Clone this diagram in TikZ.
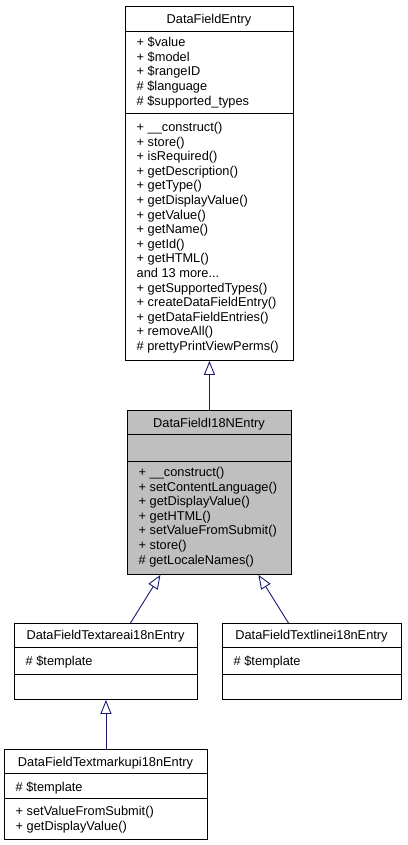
\documentclass[tikz,border=0pt]{standalone}
\usepackage{fontspec}
\setmainfont{Liberation Sans}
\usetikzlibrary{arrows.meta}
\definecolor{edgeblue}{HTML}{191970}
\definecolor{boxgray}{HTML}{BFBFBF}
\tikzset{
  classbox/.style={draw=black, line width=0.9pt, inner sep=0pt, anchor=north west},
  divider/.style={draw=black, line width=0.9pt},
  ttl/.style={anchor=base, inner sep=0pt, font=\fontsize{12.8pt}{14.6pt}\selectfont},
  mem/.style={anchor=base west, inner sep=0pt, font=\fontsize{12.8pt}{14.6pt}\selectfont},
  inh/.style={draw=edgeblue, line width=0.9pt, -{Triangle[open, length=14pt, width=11pt]}}
}
\begin{document}
\begin{tikzpicture}[x=1pt, y=-1pt]
\useasboundingbox (0,0) rectangle (407,845);

% ---------- DataFieldEntry ----------
\node[classbox, minimum width=168pt, minimum height=354pt] (b1) at (125,6) {};
\node[ttl] (b1t) at (209,23.5) {DataFieldEntry};
\draw[divider] (b1.west |- 0,31.5) -- (b1.east |- 0,31.5);
\draw[divider] (b1.west |- 0,113) -- (b1.east |- 0,113);
\node[mem] (b1a1) at (136.5,46.8) {+ \$value};
\node[mem] (b1a2) at (136.5,61.4) {+ \$model};
\node[mem] (b1a3) at (136.5,76.0) {+ \$rangeID};
\node[mem] (b1a4) at (136.5,90.6) {\# \$language};
\node[mem] (b1a5) at (136.5,105.2) {\# \$supported\_types};
\node[mem] (b1m1) at (136.5,131.5) {+ \_\_construct()};
\node[mem] (b1m2) at (136.5,146.1) {+ store()};
\node[mem] (b1m3) at (136.5,160.7) {+ isRequired()};
\node[mem] (b1m4) at (136.5,175.3) {+ getDescription()};
\node[mem] (b1m5) at (136.5,189.9) {+ getType()};
\node[mem] (b1m6) at (136.5,204.5) {+ getDisplayValue()};
\node[mem] (b1m7) at (136.5,219.1) {+ getValue()};
\node[mem] (b1m8) at (136.5,233.7) {+ getName()};
\node[mem] (b1m9) at (136.5,248.3) {+ getId()};
\node[mem] (b1m10) at (136.5,262.9) {+ getHTML()};
\node[mem] (b1m11) at (136.5,277.5) {and 13 more...};
\node[mem] (b1m12) at (136.5,292.1) {+ getSupportedTypes()};
\node[mem] (b1m13) at (136.5,306.7) {+ createDataFieldEntry()};
\node[mem] (b1m14) at (136.5,321.3) {+ getDataFieldEntries()};
\node[mem] (b1m15) at (136.5,335.9) {+ removeAll()};
\node[mem] (b1m16) at (136.5,350.5) {\# prettyPrintViewPerms()};

% ---------- DataFieldI18NEntry ----------
\node[classbox, fill=boxgray, minimum width=164pt, minimum height=164pt] (b2) at (127,410) {};
\node[ttl] (b2t) at (209,427.2) {DataFieldI18NEntry};
\draw[divider] (b2.west |- 0,434.5) -- (b2.east |- 0,434.5);
\draw[divider] (b2.west |- 0,461) -- (b2.east |- 0,461);
\node[mem] (b2m1) at (138.5,476.5) {+ \_\_construct()};
\node[mem] (b2m2) at (138.5,491.1) {+ setContentLanguage()};
\node[mem] (b2m3) at (138.5,505.7) {+ getDisplayValue()};
\node[mem] (b2m4) at (138.5,520.3) {+ getHTML()};
\node[mem] (b2m5) at (138.5,534.9) {+ setValueFromSubmit()};
\node[mem] (b2m6) at (138.5,549.5) {+ store()};
\node[mem] (b2m7) at (138.5,564.1) {\# getLocaleNames()};

% ---------- DataFieldTextareai18nEntry ----------
\node[classbox, minimum width=183pt, minimum height=76pt] (b3) at (14,623) {};
\node[ttl] (b3t) at (105.5,639.5) {DataFieldTextareai18nEntry};
\draw[divider] (b3.west |- 0,647) -- (b3.east |- 0,647);
\node[mem] (b3a1) at (25.5,665) {\# \$template};
\draw[divider] (b3.west |- 0,674) -- (b3.east |- 0,674);

% ---------- DataFieldTextlinei18nEntry ----------
\node[classbox, minimum width=179pt, minimum height=76pt] (b4) at (222,623) {};
\node[ttl] (b4t) at (311.5,639.5) {DataFieldTextlinei18nEntry};
\draw[divider] (b4.west |- 0,647) -- (b4.east |- 0,647);
\node[mem] (b4a1) at (233.5,665) {\# \$template};
\draw[divider] (b4.west |- 0,674) -- (b4.east |- 0,674);

% ---------- DataFieldTextmarkupi18nEntry ----------
\node[classbox, minimum width=203pt, minimum height=90pt] (b5) at (4,749) {};
\node[ttl] (b5t) at (105.5,766) {DataFieldTextmarkupi18nEntry};
\draw[divider] (b5.west |- 0,773.5) -- (b5.east |- 0,773.5);
\node[mem] (b5a1) at (15.5,791) {\# \$template};
\draw[divider] (b5.west |- 0,798.5) -- (b5.east |- 0,798.5);
\node[mem] (b5m1) at (15.5,815.5) {+ setValueFromSubmit()};
\node[mem] (b5m2) at (15.5,830.1) {+ getDisplayValue()};

% ---------- inheritance ----------
\draw[inh] (b2.north) -- (b1.south);
\draw[inh] ([xshift=24.5pt]b3.north) -- ([xshift=-49pt]b2.south);
\draw[inh] ([xshift=-23.5pt]b4.north) -- ([xshift=49pt]b2.south);
\draw[inh] (b5.north) -- (b3.south);
\end{tikzpicture}
\end{document}
